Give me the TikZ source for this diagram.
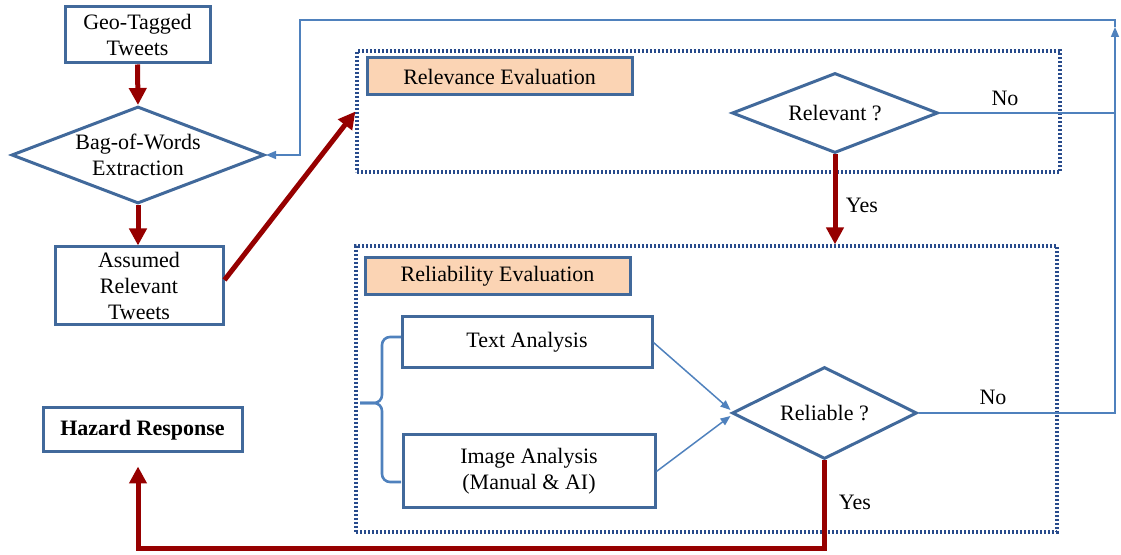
\documentclass[tikz,border=0pt]{standalone}
\usepackage{fontspec}
\setmainfont{Liberation Serif}
\usetikzlibrary{shapes.geometric, arrows.meta, calc}
\definecolor{boxblue}{RGB}{65,105,155}
\definecolor{lineblue}{RGB}{79,129,189}
\definecolor{dotblue}{RGB}{40,75,140}
\definecolor{darkred}{RGB}{150,0,0}
\definecolor{peach}{RGB}{251,212,180}

\begin{document}
\begin{tikzpicture}[x=0.5pt, y=-0.5pt,
    every node/.style={font=\fontsize{11}{13}\selectfont, inner sep=0pt, align=center},
    box/.style={draw=boxblue, line width=1.5pt, fill=white},
    header/.style={box, fill=peach},
    decision/.style={diamond, aspect=2.6, draw=boxblue, line width=1.5pt, fill=white},
    dotbox/.style={draw=dotblue, line width=1.6pt, dash pattern=on 1.1pt off 0.9pt},
    redflow/.style={draw=darkred, line width=2.5pt, -{Triangle[length=8.5pt, width=8.5pt]}},
    blueflow/.style={draw=lineblue, line width=0.75pt},
    bluearrow/.style={blueflow, -{Triangle[length=5pt, width=4pt]}},
    bracket/.style={draw=lineblue, line width=1.3pt, rounded corners=4pt}]
    \useasboundingbox (0,0) rectangle (1121,555);

    % left column
    \node[box, minimum width=72.5pt, minimum height=28pt] (geo) at (137.5,35) {Geo-Tagged\\Tweets};
    \node[decision, minimum width=126.5pt, minimum height=48.5pt] (bag) at (138,155) {Bag-of-Words\\Extraction};
    \node[box, minimum width=84pt, minimum height=39pt] (assumed) at (139,286) {Assumed\\Relevant\\Tweets};
    \node[box, minimum width=99.5pt, minimum height=22pt, font=\fontsize{11}{13}\selectfont\bfseries] (hazard) at (142.5,430) {Hazard Response};

    % relevance
    \node[dotbox, minimum width=351.5pt, minimum height=60.5pt] (relbox) at (708.5,111.5) {};
    \node[header, minimum width=132.5pt, minimum height=18.5pt] (relhead) at (499.5,76.5) {Relevance Evaluation};
    \node[decision, minimum width=103pt, minimum height=40pt] (relevant) at (835,113) {Relevant ?};

    % reliability
    \node[dotbox, minimum width=350.5pt, minimum height=143pt] (relibox) at (706.5,389) {};
    \node[header, minimum width=132.5pt, minimum height=18.5pt] (relihead) at (497.5,276.5) {Reliability Evaluation};
    \node[box, minimum width=125pt, minimum height=25.5pt] (text) at (527,342.5) {Text Analysis};
    \node[box, minimum width=126pt, minimum height=36.5pt] (image) at (529,471.5) {Image Analysis\\(Manual \& AI)};
    \node[decision, aspect=2, minimum width=92.5pt, minimum height=46pt] (reliable) at (824.5,413) {Reliable ?};

    \node (noA) at (1005,98) {No};
    \node (noB) at (993,397) {No};
    \node (yesA) at (862,205) {Yes};
    \node (yesB) at (855,502) {Yes};

    \coordinate (brT) at (401,337);
    \coordinate (brB) at (401,482);
    \coordinate (brM) at (360,403);
    \draw[bracket] (brT) -- (382,337) -- (382,403) -- (brM);
    \draw[bracket] (brM) -- (382,403) -- (382,482) -- (brB);

    % main flow
    \draw[redflow] (geo.south) -- (bag.north);
    \draw[redflow] (bag.south) -- (bag.south |- assumed.north);
    \draw[redflow] ([yshift=3pt]assumed.east) -- (relbox.west);
    \draw[redflow] (relevant.south) -- (relevant.south |- relibox.north);
    \coordinate (floor) at (138,549);
    \draw[redflow, shorten >=6.5pt] (reliable.south) |- (floor) -- (floor |- hazard.south);

    % feedback
    \coordinate (upend) at (1115,27);
    \coordinate (corner) at (300,20);
    \draw[bluearrow] (reliable.east) -| (upend);
    \draw[blueflow] (relevant.east) -- (relevant.east -| upend);
    \draw[bluearrow] (upend) |- (corner) |- (bag.east);
    \draw[bluearrow] (text.east) -- ([yshift=1.5pt]reliable.west);
    \draw[bluearrow] (image.east) -- ([yshift=-1.5pt]reliable.west);
\end{tikzpicture}
\end{document}
